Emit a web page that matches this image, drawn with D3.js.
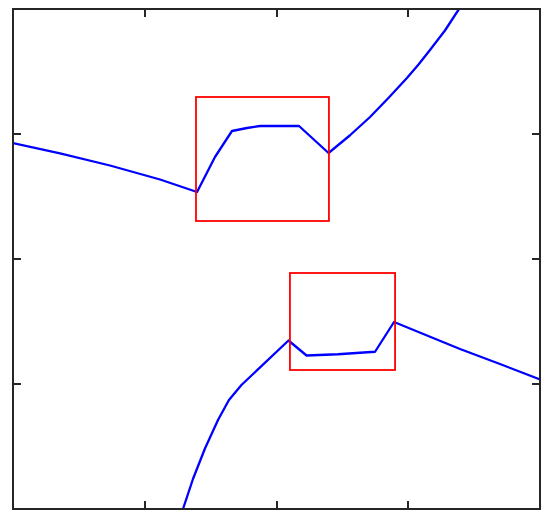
<!DOCTYPE html>
<html lang="en">
<head>
    <meta charset="UTF-8">
    <title>Two branches with zoom boxes</title>
    <script src="https://d3js.org/d3.v7.min.js"></script>
    <style>
        body { margin: 0; background: #fff; }
        .frame { fill: none; stroke: #262626; stroke-width: 2; shape-rendering: crispEdges; }
        .tick-mark { stroke: #262626; stroke-width: 2; shape-rendering: crispEdges; }
    </style>
</head>
<body>
    <div id="chart"></div>
    <script>
        // upper branch
        var upperX = [0, 0.357, 0.736, 1.116, 1.397, 1.533, 1.662, 1.776, 1.875, 2.171, 2.395, 2.556, 2.71, 2.853, 2.99, 3.078, 3.165, 3.28, 3.385];
        var upperY = [2.928, 2.845, 2.748, 2.636, 2.536, 2.816, 3.024, 3.048, 3.064, 3.064, 2.848, 2.988, 3.136, 3.292, 3.448, 3.556, 3.672, 3.83, 4.0];

        // lower branch
        var lowerX = [1.29, 1.366, 1.457, 1.556, 1.639, 1.734, 2.091, 2.228, 2.467, 2.634, 2.748, 2.892, 3.393, 3.696, 4.0];
        var lowerY = [0, 0.24, 0.484, 0.712, 0.872, 0.992, 1.348, 1.228, 1.238, 1.25, 1.258, 1.496, 1.28, 1.16, 1.036];

        // zoom boxes: [x0, x1, y0, y1]
        var boxes = [
            [1.389, 2.398, 2.304, 3.296],
            [2.102, 2.9, 1.112, 1.888]
        ];

        var tickValues = [1, 2, 3];

        var margin = { top: 9, right: 10, bottom: 8, left: 13 },
            width = 550 - margin.left - margin.right,
            height = 517 - margin.top - margin.bottom;

        var svg = d3.select("#chart")
            .append("svg")
            .attr("width", 550)
            .attr("height", 517)
            .append("g")
            .attr("transform", "translate(" + margin.left + "," + margin.top + ")");

        var x = d3.scaleLinear().domain([0, 4]).range([0, width]);
        var y = d3.scaleLinear().domain([0, 4]).range([height, 0]);

        svg.append("clipPath")
            .attr("id", "plotClip")
            .append("rect")
            .attr("width", width)
            .attr("height", height);

        var line = d3.line()
            .x(function (d) { return x(d[0]); })
            .y(function (d) { return y(d[1]); });

        var branches = [
            d3.zip(upperX, upperY),
            d3.zip(lowerX, lowerY)
        ];

        svg.append("g")
            .attr("clip-path", "url(#plotClip)")
            .selectAll("path")
            .data(branches)
            .enter()
            .append("path")
            .attr("d", line)
            .attr("fill", "none")
            .attr("stroke", "#0000ff")
            .attr("stroke-width", 2.3)
            .attr("stroke-linejoin", "round");

        svg.selectAll(".zoombox")
            .data(boxes)
            .enter()
            .append("rect")
            .attr("class", "zoombox")
            .attr("x", function (d) { return x(d[0]); })
            .attr("y", function (d) { return y(d[3]); })
            .attr("width", function (d) { return x(d[1]) - x(d[0]); })
            .attr("height", function (d) { return y(d[2]) - y(d[3]); })
            .attr("fill", "none")
            .attr("stroke", "#ff0000")
            .attr("stroke-width", 1.8);

        // inward ticks on all four sides, no labels
        var tickLen = 8;
        var ticks = svg.append("g");
        tickValues.forEach(function (t) {
            ticks.append("line").attr("class", "tick-mark")
                .attr("x1", x(t)).attr("x2", x(t)).attr("y1", 0).attr("y2", tickLen);
            ticks.append("line").attr("class", "tick-mark")
                .attr("x1", x(t)).attr("x2", x(t)).attr("y1", height).attr("y2", height - tickLen);
            ticks.append("line").attr("class", "tick-mark")
                .attr("x1", 0).attr("x2", tickLen).attr("y1", y(t)).attr("y2", y(t));
            ticks.append("line").attr("class", "tick-mark")
                .attr("x1", width).attr("x2", width - tickLen).attr("y1", y(t)).attr("y2", y(t));
        });

        svg.append("rect")
            .attr("class", "frame")
            .attr("width", width)
            .attr("height", height);
    </script>
</body>
</html>
